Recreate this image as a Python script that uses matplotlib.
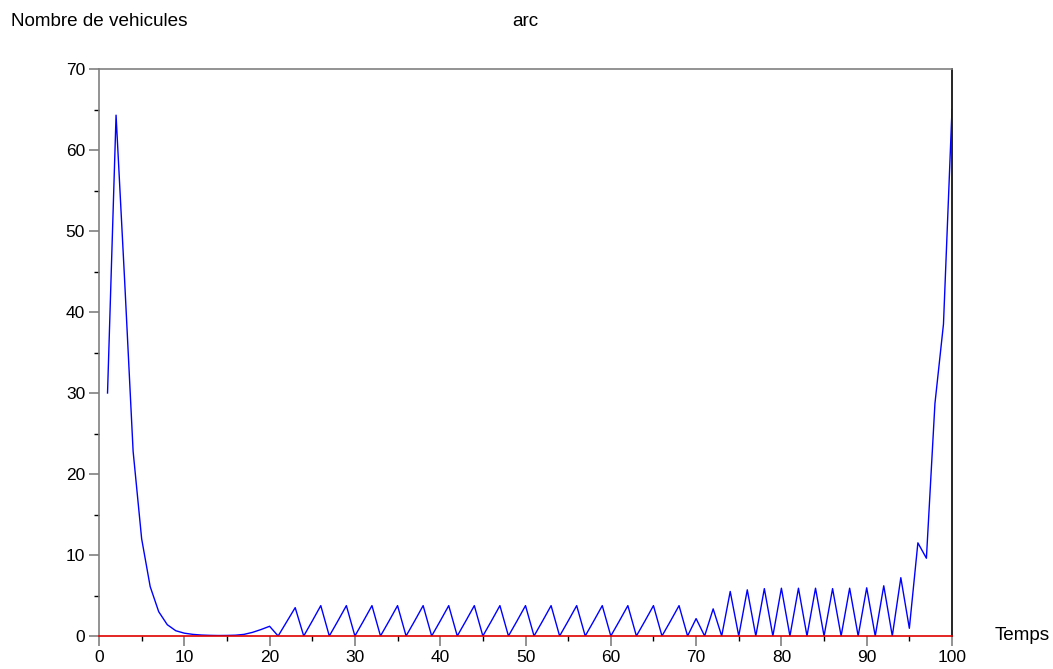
import matplotlib.pyplot as plt
from matplotlib.ticker import MultipleLocator

plt.rcParams['font.family'] = ['Liberation Sans', 'DejaVu Sans']

# temps (pas de temps 1..100)
temps = list(range(1, 101))

# nombre de vehicules sur l'arc
vehicules = [
    30.0, 64.3, 44.0, 22.8, 12.0, 6.1, 3.0, 1.4, 0.65, 0.35,
    0.2, 0.12, 0.08, 0.06, 0.07, 0.1, 0.2, 0.45, 0.8, 1.2,
    0.0, 1.75, 3.5, 0.0, 1.85, 3.75, 0.0, 1.85, 3.75, 0.0,
    1.85, 3.75, 0.0, 1.85, 3.75, 0.0, 1.85, 3.75, 0.0, 1.85,
    3.75, 0.0, 1.85, 3.75, 0.0, 1.85, 3.75, 0.0, 1.85, 3.75,
    0.0, 1.85, 3.75, 0.0, 1.85, 3.75, 0.0, 1.85, 3.75, 0.0,
    1.85, 3.75, 0.0, 1.85, 3.75, 0.0, 1.85, 3.75, 0.0, 2.15,
    0.0, 3.35, 0.0, 5.5, 0.0, 5.7, 0.0, 5.85, 0.0, 5.9,
    0.0, 5.9, 0.0, 5.9, 0.0, 5.85, 0.0, 5.9, 0.0, 5.95,
    0.0, 6.2, 0.0, 7.2, 0.95, 11.5, 9.6, 28.7, 38.5, 65.0,
]

W, H = 1053, 669
fig = plt.figure(figsize=(W / 100, H / 100), dpi=100)
ax = fig.add_axes([99 / W, 1 - 636 / H, (952 - 99) / W, (636 - 69) / H])

ax.plot(temps, vehicules, color='#0000ff', lw=1.0, zorder=3)

ax.set_xlim(0, 100)
ax.set_ylim(0, 70)
ax.xaxis.set_major_locator(MultipleLocator(10))
ax.xaxis.set_minor_locator(MultipleLocator(5))
ax.yaxis.set_major_locator(MultipleLocator(10))
ax.yaxis.set_minor_locator(MultipleLocator(5))

ax.spines['bottom'].set_color('#e00000')
ax.spines['left'].set_color('#808080')
ax.spines['top'].set_color('#808080')
ax.spines['right'].set_color('black')
for s in ax.spines.values():
    s.set_linewidth(1.2)
ax.spines['bottom'].set_zorder(4)

ax.tick_params(which='major', direction='out', length=7, width=1.2,
               color='#808080', labelsize=12.5, pad=3)
ax.tick_params(which='minor', direction='out', length=3.5, width=1.0,
               color='black')

fig.text(11 / W, 1 - 21 / H, 'Nombre de vehicules', fontsize=13.6, va='center')
fig.text(512 / W, 1 - 21 / H, 'arc', fontsize=13.6, va='center')
fig.text(995 / W, 1 - 635 / H, 'Temps', fontsize=13.6, va='center')

fig.savefig('out.png', dpi=100)
